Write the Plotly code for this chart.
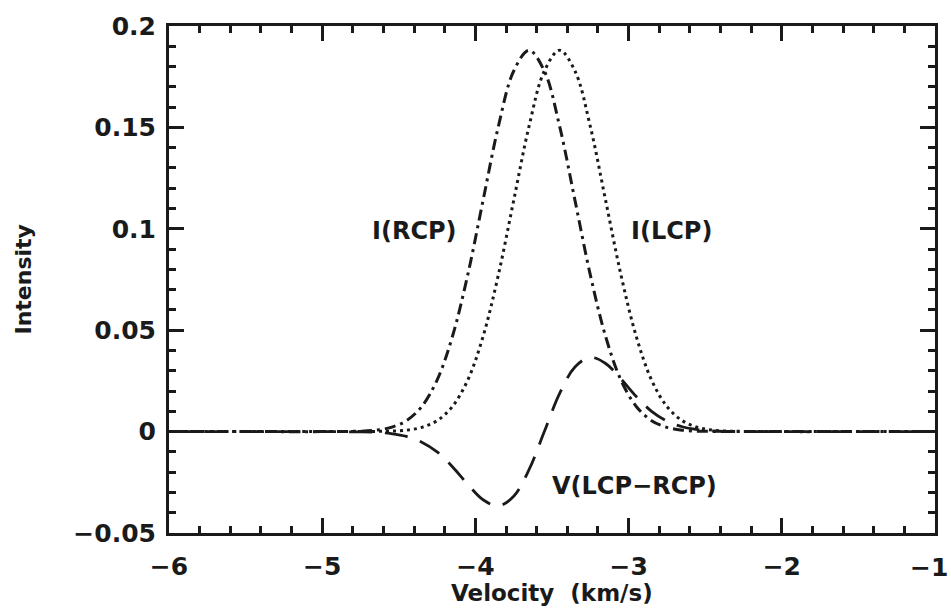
import plotly.graph_objects as go

velocity = [-6.0, -5.5, -5.0, -4.85, -4.75, -4.65, -4.55, -4.45, -4.35, -4.25, -4.15,
            -4.05, -3.95, -3.85, -3.75, -3.65, -3.55, -3.45, -3.35, -3.25, -3.15,
            -3.05, -2.95, -2.85, -2.75, -2.65, -2.55, -2.45, -2.35, -2.25, -2.0,
            -1.5, -1.0]

i_rcp = [0.0, 0.0, 0.0, 0.0001, 0.0002, 0.0007, 0.0021, 0.0054, 0.0124, 0.0254, 0.0469,
         0.0773, 0.1140, 0.1505, 0.1778, 0.1880, 0.1778, 0.1505, 0.1140, 0.0773, 0.0469,
         0.0254, 0.0124, 0.0054, 0.0021, 0.0007, 0.0002, 0.0001, 0.0, 0.0, 0.0,
         0.0, 0.0]

i_lcp = [0.0, 0.0, 0.0, 0.0, 0.0, 0.0001, 0.0002, 0.0007, 0.0021, 0.0054, 0.0124,
         0.0254, 0.0469, 0.0773, 0.1140, 0.1505, 0.1778, 0.1880, 0.1778, 0.1505, 0.1140,
         0.0773, 0.0469, 0.0254, 0.0124, 0.0054, 0.0021, 0.0007, 0.0002, 0.0001, 0.0,
         0.0, 0.0]

v_stokes = [0.0, 0.0, 0.0, -0.0001, -0.0001, -0.0003, -0.0010, -0.0024, -0.0052, -0.0100, -0.0173,
            -0.0260, -0.0336, -0.0366, -0.0319, -0.0188, 0.0, 0.0188, 0.0319, 0.0366, 0.0336,
            0.0260, 0.0173, 0.0100, 0.0052, 0.0024, 0.0010, 0.0003, 0.0001, 0.0, 0.0,
            0.0, 0.0]

x_ticks = [-6, -5, -4, -3, -2, -1]
x_tick_text = ["\u22126", "\u22125", "\u22124", "\u22123", "\u22122", ""]
x_last_label = "\u22121"
y_ticks = [-0.05, 0, 0.05, 0.1, 0.15, 0.2]
y_tick_text = ["\u22120.05", "0", "0.05", "0.1", "0.15", "0.2"]

ink = "#1a1a1a"
FONT = "DejaVu Sans"

fig = go.Figure()
fig.add_trace(go.Scatter(x=velocity, y=v_stokes, mode="lines", name="V(LCP-RCP)",
                         line=dict(color=ink, width=2.8, dash="23px,13px", shape="spline")))
fig.add_trace(go.Scatter(x=velocity, y=i_rcp, mode="lines", name="I(RCP)",
                         line=dict(color=ink, width=3, dash="11px,5px,3px,5px", shape="spline")))
fig.add_trace(go.Scatter(x=velocity, y=i_lcp, mode="lines", name="I(LCP)",
                         line=dict(color=ink, width=3, dash="3px,4px", shape="spline")))

tick_font = dict(family=FONT, size=25, color=ink, weight="bold")
axis_common = dict(
    showline=True, linewidth=3, linecolor=ink, mirror="allticks",
    ticks="inside", ticklen=15, tickwidth=3, tickcolor=ink,
    showgrid=False, zeroline=False, automargin=False,
    tickfont=tick_font,
)

fig.update_xaxes(range=[-6, -1], tickvals=x_ticks, ticktext=x_tick_text, ticklabelstandoff=9,
                 minor=dict(dtick=0.2, ticks="inside", ticklen=7, tickwidth=3, tickcolor=ink),
                 **axis_common)
fig.update_yaxes(range=[-0.05, 0.2], tickvals=y_ticks, ticktext=y_tick_text, ticklabelstandoff=5,
                 minor=dict(dtick=0.01, ticks="inside", ticklen=7, tickwidth=3, tickcolor=ink),
                 **axis_common)

# last x tick label, kept inside the page (right-aligned at the page edge)
fig.add_annotation(xref="paper", yref="paper", x=1, y=0, xanchor="right", yanchor="middle",
                   xshift=15, yshift=-34, text=x_last_label, showarrow=False, font=tick_font)

ann_font = dict(family=FONT, size=24, color=ink, weight="bold")
fig.add_annotation(x=-4.40, y=0.099, text="I(RCP)", showarrow=False, font=ann_font)
fig.add_annotation(x=-2.72, y=0.099, text="I(LCP)", showarrow=False, font=ann_font)
fig.add_annotation(x=-2.96, y=-0.027, text="V(LCP\u2212RCP)", showarrow=False, font=ann_font)

title_font = dict(family=FONT, size=23, color=ink, weight="bold")
fig.add_annotation(xref="paper", yref="paper", x=0.5, y=0, yanchor="middle",
                   yshift=-60, text="Velocity  (km/s)", showarrow=False, font=title_font)
fig.add_annotation(xref="paper", yref="paper", x=0, y=0.5, xanchor="center",
                   xshift=-146, text="Intensity", textangle=-90, showarrow=False,
                   font=dict(family=FONT, size=22, color=ink, weight="bold"))

fig.update_layout(
    width=951, height=610,
    margin=dict(l=169, r=16, t=26, b=77),
    paper_bgcolor="white", plot_bgcolor="white",
    showlegend=False,
)

fig.write_html("out.html")
